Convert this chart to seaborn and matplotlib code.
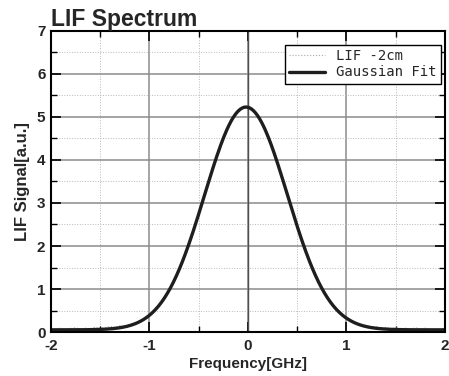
import numpy as np
import pandas as pd
import matplotlib
matplotlib.use('Agg')
import matplotlib.pyplot as plt
import seaborn as sns
from matplotlib.ticker import MultipleLocator

# LIF signal, -2 .. 2 GHz in 0.05 GHz steps
lif_signal = [
    0.08, 0.06, 0.09, 0.05, 0.08, 0.10, 0.06, 0.09, 0.07, 0.11,
    0.08, 0.10, 0.13, 0.11, 0.15, 0.14, 0.18, 0.20, 0.25, 0.30,
    0.40, 0.50, 0.63, 0.78, 0.97, 1.20, 1.45, 1.74, 2.05, 2.40,
    2.75, 3.12, 3.49, 3.86, 4.20, 4.52, 4.78, 5.00, 5.15, 5.25,
    5.27, 5.20, 5.05, 4.85, 4.57, 4.27, 3.92, 3.56, 3.19, 2.82,
    2.46, 2.12, 1.79, 1.50, 1.24, 1.01, 0.83, 0.66, 0.53, 0.42,
    0.35, 0.27, 0.22, 0.18, 0.15, 0.12, 0.13, 0.09, 0.11, 0.08,
    0.10, 0.07, 0.09, 0.06, 0.10, 0.07, 0.09, 0.06, 0.08, 0.07,
    0.09,
]
freq = np.linspace(-2, 2, len(lif_signal))

# Gaussian fit parameters
fit_amp = 5.18
fit_center = -0.02
fit_sigma = 0.42
fit_offset = 0.05

lif = pd.DataFrame({'Frequency': freq, 'Signal': lif_signal})
fit_x = np.linspace(-2, 2, 400)
fit = pd.DataFrame({
    'Frequency': fit_x,
    'Signal': fit_amp * np.exp(-(fit_x - fit_center) ** 2 / (2 * fit_sigma ** 2)) + fit_offset,
})

sns.set_style('white')
plt.rcParams['font.family'] = ['Liberation Sans', 'DejaVu Sans']

fig = plt.figure(figsize=(4.49, 3.76), dpi=100)
ax = fig.add_axes([0.1136, 0.117, 0.8774, 0.8006])

# Grid
ax.xaxis.set_major_locator(MultipleLocator(1))
ax.xaxis.set_minor_locator(MultipleLocator(0.5))
ax.yaxis.set_major_locator(MultipleLocator(1))
ax.yaxis.set_minor_locator(MultipleLocator(0.5))
ax.grid(which='major', color='#8c8c8c', linewidth=1.1, linestyle='-')
ax.grid(which='minor', color='#b8b8b8', linewidth=0.7, linestyle=':')
ax.set_axisbelow(True)
ax.axvline(0, color='#505050', linewidth=1.0, zorder=1)

sns.lineplot(data=lif, x='Frequency', y='Signal', ax=ax, color='#a8a8a8',
             linewidth=0.8, linestyle=':', label='LIF -2cm')
sns.lineplot(data=fit, x='Frequency', y='Signal', ax=ax, color='#1e1e1e',
             linewidth=2.4, label='Gaussian Fit')

ax.set_xlim(-2, 2)
ax.set_ylim(0, 7)
ax.set_xticks([-2, -1, 0, 1, 2])
ax.set_xticklabels(['-2', '-1', '0', '1', '2'])

for s in ax.spines.values():
    s.set_color('black')
    s.set_linewidth(1.5)
ax.tick_params(which='both', direction='in', top=True, right=True,
               bottom=True, left=True, color='black')
ax.tick_params(which='major', length=7, width=1.2, labelsize=11, pad=4)
ax.tick_params(axis='x', which='major', pad=5)
ax.tick_params(which='minor', length=4, width=1.0)
for lab in ax.get_xticklabels() + ax.get_yticklabels():
    lab.set_fontweight('bold')

ax.set_xlabel('Frequency[GHz]', fontsize=11, fontweight='bold', labelpad=3)
ax.set_ylabel('LIF Signal[a.u.]', fontsize=12, fontweight='bold', labelpad=5)
ax.set_title('LIF Spectrum', loc='left', fontsize=16.5, fontweight='bold', pad=2)

leg = ax.legend(loc='upper right', bbox_to_anchor=(0.99, 0.953),
                prop={'family': 'DejaVu Sans Mono', 'size': 10},
                frameon=True, fancybox=False, framealpha=1, edgecolor='black',
                borderpad=0.3, handlelength=2.6, labelspacing=0.15,
                borderaxespad=0, handletextpad=0.8)
leg.get_frame().set_linewidth(1.0)

fig.savefig('out.png', dpi=100)
